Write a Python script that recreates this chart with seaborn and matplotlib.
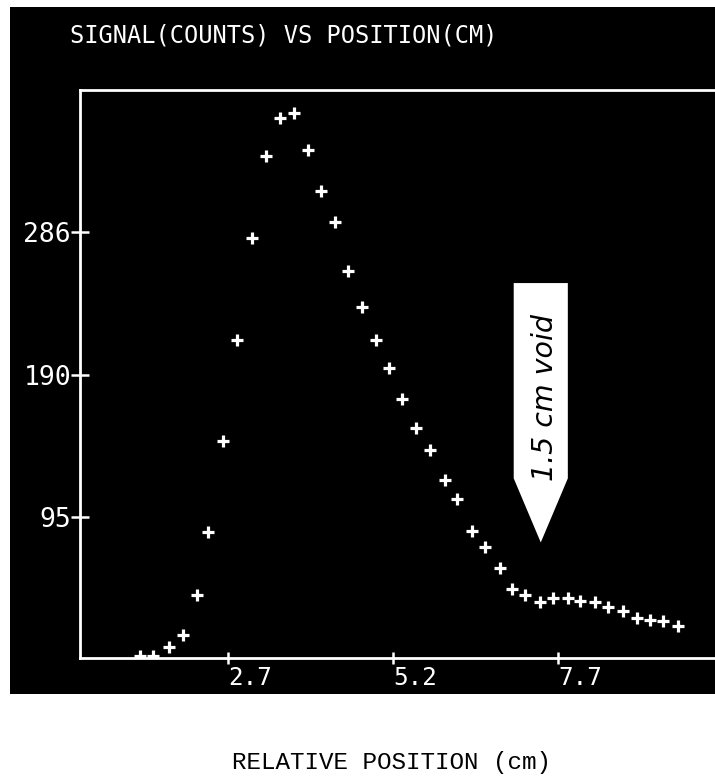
import matplotlib
matplotlib.use("Agg")
import matplotlib.pyplot as plt
import seaborn as sns
import pandas as pd
from matplotlib.patches import Rectangle, Polygon

# ---- data ----
position_cm = [1.37, 1.56, 1.81, 2.02, 2.23, 2.40, 2.62, 2.84, 3.06, 3.28,
               3.49, 3.70, 3.91, 4.11, 4.32, 4.52, 4.73, 4.94, 5.14, 5.34,
               5.55, 5.76, 5.99, 6.17, 6.40, 6.59, 6.82, 7.00, 7.20, 7.43,
               7.62, 7.85, 8.03, 8.26, 8.46, 8.69, 8.90, 9.09, 9.29, 9.52]
signal_counts = [2, 2, 8, 16, 43, 85, 146, 214, 282, 337,
                 363, 366, 341, 314, 293, 260, 236, 214, 195, 174,
                 155, 140, 120, 107, 86, 75, 61, 47, 43, 38,
                 41, 41, 39, 38, 35, 32, 27, 26, 25, 22]
y_ticks = [95, 190, 286]
y_tick_labels = ["95", "190", "286"]
x_ticks = [2.7, 5.2, 7.7]
x_tick_labels = ["2.7", "5.2", "7.7"]
title_text = "SIGNAL(COUNTS) VS POSITION(CM)"
xlabel_text = "RELATIVE POSITION (cm)"
annotation_text = "1.5 cm void"

df = pd.DataFrame({"position": position_cm, "signal": signal_counts})

sns.set_style("dark")
plt.rcParams["font.family"] = ["DejaVu Sans"]

W, H = 715, 776
fig = plt.figure(figsize=(W / 100, H / 100), dpi=100)
fig.patch.set_facecolor("white")

# black screen panel (behind the axes)
panel = Rectangle((10 / W, 1 - 694 / H), 1 - 10 / W, (694 - 7) / H,
                  transform=fig.transFigure, facecolor="black",
                  edgecolor="none", zorder=-10)
fig.add_artist(panel)

ax = fig.add_axes([80 / W, 1 - 658 / H, 1 - 80 / W, (658 - 90) / H])
ax.set_zorder(1)
ax.set_facecolor("black")

sns.scatterplot(data=df, x="position", y="signal", ax=ax, marker="+",
                color="white", s=70, linewidth=2.3, zorder=3, legend=False)

ax.set_xlim(0.458, 10.08)
ax.set_ylim(0.5, 381.5)

mono = "DejaVu Sans Mono"
ax.set_yticks(y_ticks)
ax.set_yticklabels(y_tick_labels, family=mono, fontsize=19, color="white")
ax.set_xticks(x_ticks)
ax.set_xticklabels(x_tick_labels, family=mono, fontsize=17.5, color="white",
                   ha="left")
ax.tick_params(axis="y", left=True, direction="inout", length=13, width=1.8,
               color="white", pad=0)
ax.tick_params(axis="x", bottom=True, direction="inout", length=8, width=1.8,
               color="white", pad=2)
ax.grid(False)
ax.set_xlabel("")
ax.set_ylabel("")

for side in ["left", "bottom", "top"]:
    ax.spines[side].set_visible(True)
    ax.spines[side].set_color("white")
    ax.spines[side].set_linewidth(2)
ax.spines["right"].set_visible(False)

# arrow-shaped callout
arrow = Polygon([(7.03, 252), (7.85, 252), (7.85, 121), (7.44, 78), (7.03, 121)],
                closed=True, facecolor="white", edgecolor="none", zorder=4)
ax.add_patch(arrow)
ax.text(7.50, 175, annotation_text, rotation=90, ha="center", va="center",
        fontsize=20.5, style="italic", color="black", zorder=5)

fig.text(70 / W, 1 - 36 / H, title_text, family=mono, fontsize=17,
         color="white", ha="left", va="center", zorder=2)
fig.text(392 / W, 1 - 762 / H, xlabel_text, family="Liberation Mono",
         fontsize=17.5, color="black", ha="center", va="center", zorder=2)

fig.savefig("out.png", dpi=100, facecolor="white")
